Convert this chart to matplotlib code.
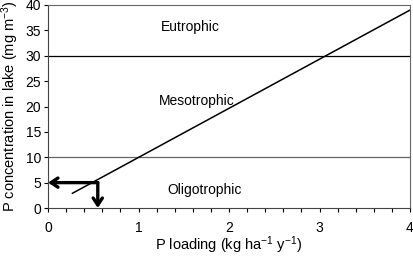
import matplotlib
matplotlib.use("Agg")
import matplotlib.pyplot as plt
from matplotlib.ticker import MultipleLocator

plt.rcParams['font.family'] = ['Liberation Sans', 'DejaVu Sans']
plt.rcParams['mathtext.fontset'] = 'custom'
plt.rcParams['mathtext.rm'] = 'Liberation Sans'
plt.rcParams['mathtext.default'] = 'regular'

line_x = [0.27, 4.0]
line_y = [2.9, 39.0]
boundaries = [10, 30]
boundary_colors = ['#666666', 'black']
labels = ['Eutrophic', 'Mesotrophic', 'Oligotrophic']
label_x = [1.57, 1.64, 1.73]
label_y = [35.7, 21.1, 3.5]
target_y = 5
target_x = 0.55

fig = plt.figure(figsize=(4.13, 2.56), dpi=100)
ax = fig.add_axes([48/413, 48/256, (410-48)/413, (208-5)/256])
ax.set_xlim(0, 4)
ax.set_ylim(0, 40)

for b, c in zip(boundaries, boundary_colors):
    ax.axhline(b, color=c, lw=0.9)
ax.plot(line_x, line_y, color='black', lw=1.1)

for t, x, y in zip(labels, label_x, label_y):
    ax.text(x, y, t, ha='center', va='center', fontsize=10)

arrow = dict(arrowstyle='->,head_length=0.5,head_width=0.33', lw=2.4, color='black',
             shrinkA=0, shrinkB=0)
ax.annotate('', xy=(0.0, target_y), xytext=(target_x, target_y), arrowprops=arrow)
ax.annotate('', xy=(target_x, 0.0), xytext=(target_x, target_y), arrowprops=arrow)

ax.xaxis.set_major_locator(MultipleLocator(1))
ax.xaxis.set_minor_locator(MultipleLocator(0.2))
ax.yaxis.set_major_locator(MultipleLocator(5))
ax.tick_params(direction='out', length=3, width=0.8, labelsize=10, pad=2)
ax.tick_params(axis='x', which='minor', direction='out', length=3, width=0.8)
ax.tick_params(axis='x', pad=6)

for s in ['top', 'right']:
    ax.spines[s].set_color('#666666')
for s in ['left', 'bottom']:
    ax.spines[s].set_color('#444444')

ax.set_xlabel('P loading (kg ha$^{-1}$ y$^{-1}$)', fontsize=10.5)
ax.xaxis.label.set_va('center')
ax.xaxis.set_label_coords(0.5, (208 - 245.5) / 203)
ax.set_ylabel('P concentration in lake (mg m$^{-3}$)', fontsize=10.5, labelpad=3)

fig.savefig('out.png', dpi=100)
